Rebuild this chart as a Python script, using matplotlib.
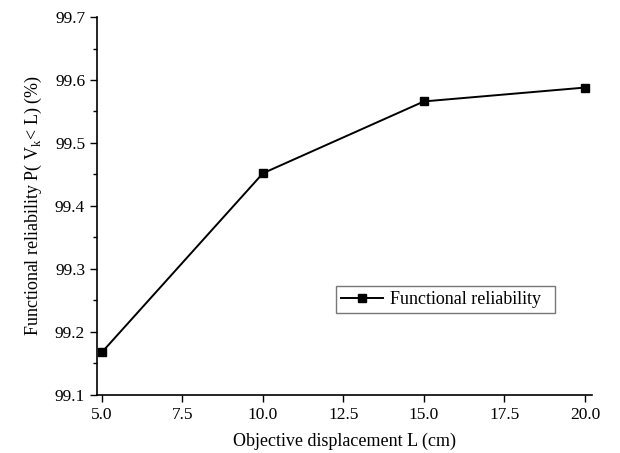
import numpy as np
import matplotlib.pyplot as plt
from matplotlib.ticker import MultipleLocator

plt.rcParams['font.family'] = ['Liberation Serif', 'DejaVu Serif']

displacement = [5.0, 10.0, 15.0, 20.0]
reliability = [99.168, 99.452, 99.566, 99.588]
x_ticks = [5.0, 7.5, 10.0, 12.5, 15.0, 17.5, 20.0]
y_ticks = [99.1, 99.2, 99.3, 99.4, 99.5, 99.6, 99.7]

fig = plt.figure(figsize=(6.2, 4.53), dpi=100)
ax = fig.add_axes([97/620, 1-395/453, (592-97)/620, (395-17)/453])

ax.plot(displacement, reliability, color='black', lw=1.4, marker='s', ms=6,
        label='Functional reliability  ')

ax.set_xlim(4.845, 20.22)
ax.set_ylim(99.1, 99.7)
ax.set_xticks(x_ticks)
ax.set_xticklabels(['%.1f' % v for v in x_ticks])
ax.set_yticks(y_ticks)
ax.set_yticklabels(['%.1f' % v for v in y_ticks])
ax.yaxis.set_minor_locator(MultipleLocator(0.05))
ax.tick_params(which='both', direction='out', labelsize=12.5, width=1)
ax.tick_params(which='major', length=5)
ax.tick_params(which='minor', length=3)

for s in ['top', 'right']:
    ax.spines[s].set_visible(False)
for s in ['left', 'bottom']:
    ax.spines[s].set_linewidth(1.2)

ax.set_xlabel('Objective displacement L (cm)', fontsize=13, labelpad=7)
ax.set_ylabel(r'Functional reliability P( V$_\mathregular{k}$< L) (%)', fontsize=13, labelpad=8)

leg = ax.legend(loc='upper left', bbox_to_anchor=((341-97)/495, 1-(291-17)/378),
                fontsize=13, frameon=True, fancybox=False, handlelength=2.3,
                borderpad=0.0, handletextpad=0.4, borderaxespad=0)
leg.get_frame().set_boxstyle('square', pad=0.28)
leg.get_frame().set_edgecolor('#555555')
leg.get_frame().set_linewidth(1)

fig.savefig('out.png', dpi=100)
